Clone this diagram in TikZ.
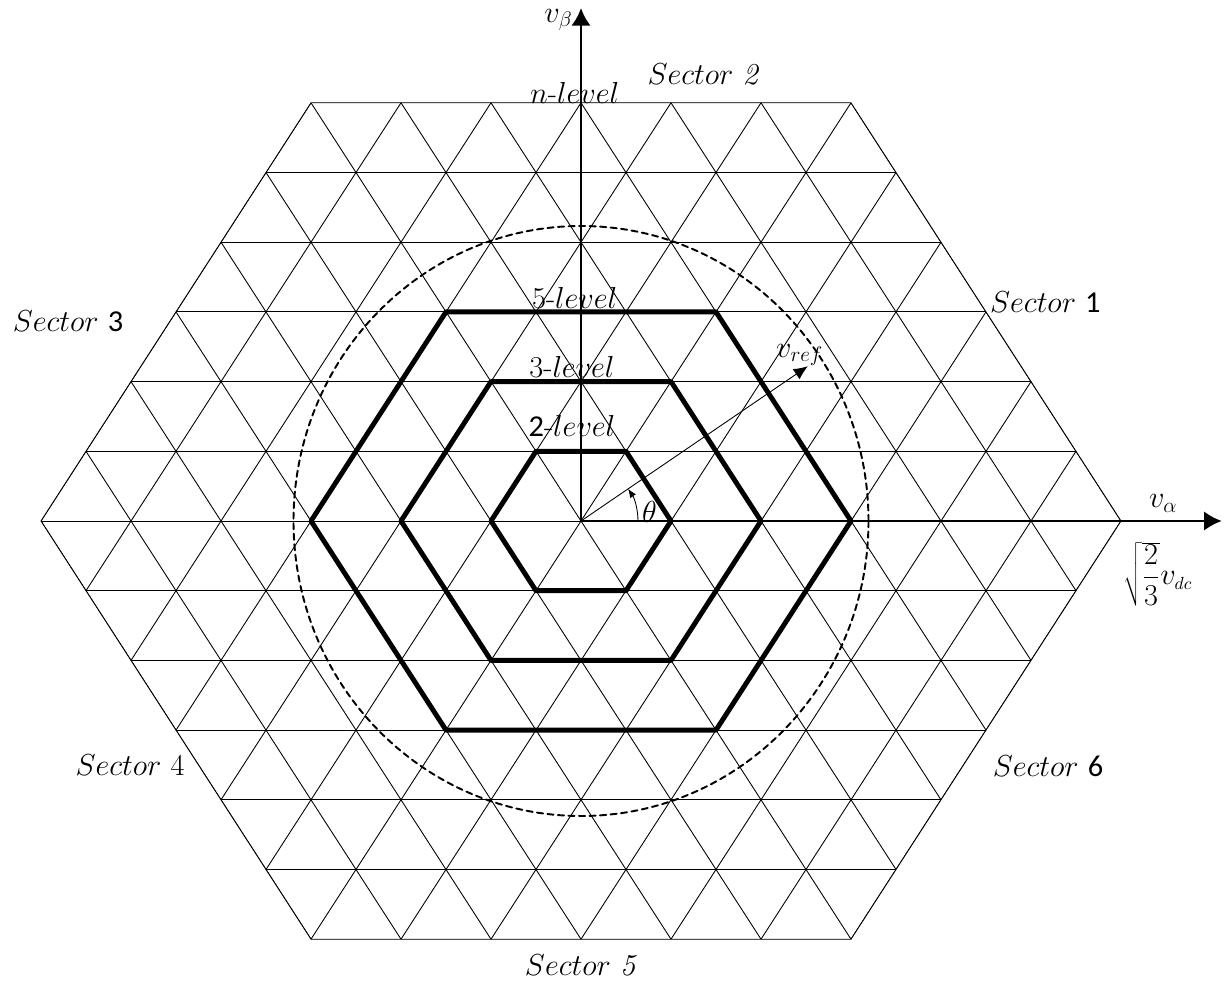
\documentclass[tikz,border=0pt]{standalone}
\usepackage{fontspec}
\newfontfamily\numfont{Carlito}
\usetikzlibrary{arrows.meta}
\tikzset{
  lattice/.style={line width=0.5pt},
  levelhex/.style={line width=2.8pt},
  axis/.style={line width=1.6pt},
  lbl/.style={font=\LARGE, inner sep=1pt},
}
\begin{document}
\begin{tikzpicture}[x=1.8cm, y=1.394cm, line cap=round, line join=round, >={Latex[length=10pt,width=11pt]}]
    \useasboundingbox (-11.62cm,-9.18cm) rectangle (12.86cm,10.42cm);
    \coordinate (O) at (0,0);
    \begin{scope}
      \clip (-6,0) -- (-3,6) -- (3,6) -- (6,0) -- (3,-6) -- (-3,-6) -- cycle;
      \foreach \k in {-6,...,6} \draw[lattice] (-7,\k) -- (7,\k);
      \foreach \c in {-6,...,6} {
        \draw[lattice] (\c-3,-6) -- (\c+3,6);
        \draw[lattice] (\c+3,-6) -- (\c-3,6);
      }
    \end{scope}
    \draw[lattice] (-6,0) -- (-3,6) -- (3,6) -- (6,0) -- (3,-6) -- (-3,-6) -- cycle;
    \foreach \s in {1,2,3} \draw[levelhex] (-\s,0) -- (-\s/2,\s) -- (\s/2,\s) -- (\s,0) -- (\s/2,-\s) -- (-\s/2,-\s) -- cycle;
    \draw[line width=1.1pt, dash pattern=on 3.5pt off 2.5pt] (O) ellipse [x radius=5.75cm, y radius=5.9cm];
    \coordinate (alpha) at (7.12,0);
    \coordinate (beta) at (0,7.36);
    \coordinate (ref) at (2.52,2.22);
    \draw[axis,->] (O) -- (alpha);
    \draw[axis,->] (O) -- (beta);
    \draw[lattice,-{Latex[length=8pt,width=7pt]}] (O) -- (ref);
    \draw[lattice,-{Latex[length=5pt,width=4pt]}] (O) ++(1.14cm,0) arc [start angle=0, end angle=34.3, radius=1.14cm];
    \node[lbl] (vbeta) at (-0.25,7.19) {$v_\beta$};
    \node[lbl] (valpha) at (6.47,0.25) {$v_\alpha$};
    \node[lbl] (vdc) at (6.41,-0.76) {$\sqrt{\displaystyle\frac{2}{3}}v_{\scriptscriptstyle dc}$};
    \node[lbl] (vref) at (2.43,2.38) {$v_{ref}$};
    \node[lbl] (theta) at (0.76,0.13) {$\theta$};
    \node[lbl] (nlev) at (-0.07,6.14) {$n$-$level$};
    \node[lbl] (lev5) at (-0.07,3.2) {5-$level$};
    \node[lbl] (lev3) at (-0.1,2.2) {3-$level$};
    \node[lbl] (lev2) at (-0.1,1.36) {{\numfont 2}-$level$};
    \node[lbl] (sec1) at (5.16,3.14) {$Sector$ {\numfont 1}};
    \node[lbl] (sec2) at (1.36,6.40) {$Sector$ \textit{2}};
    \node[lbl] (sec3) at (-5.7,2.86) {$Sector$ {\numfont 3}};
    \node[lbl] (sec4) at (-5.01,-3.5) {$Sector$ 4};
    \node[lbl] (sec5) at (0,-6.37) {$Sector$ \textit{5}};
    \node[lbl] (sec6) at (5.19,-3.52) {$Sector$ {\numfont 6}};
\end{tikzpicture}
\end{document}
